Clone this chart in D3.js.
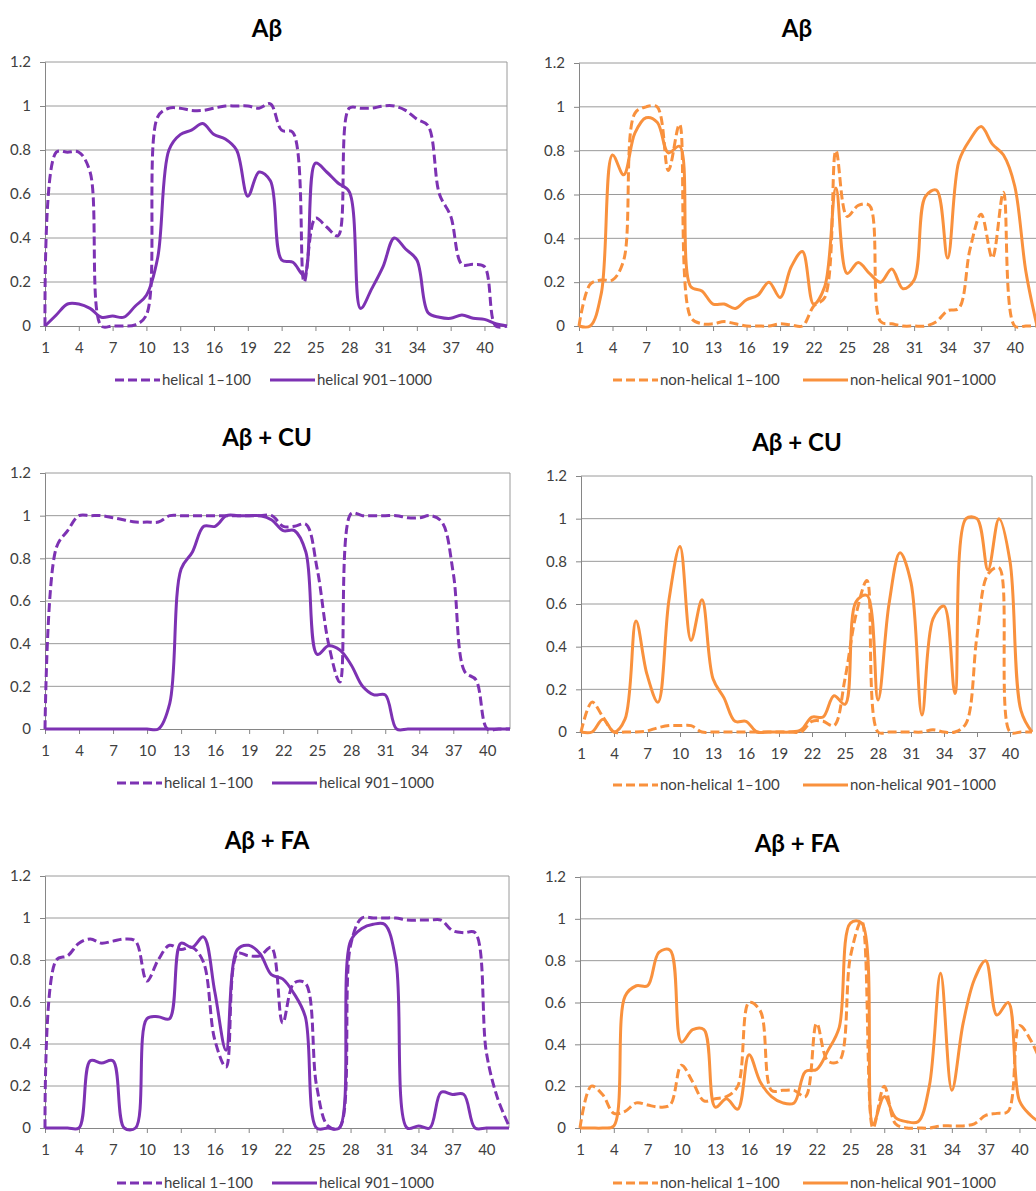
<!DOCTYPE html>
<meta charset="utf-8">
<style>
body { margin: 0; background: #fff; }
svg { display: block; }
.tick-label { font-family: Lato, "Open Sans", sans-serif; font-size: 15px; fill: #404040; }
.title { font-family: Lato, "Open Sans", sans-serif; font-size: 24px; font-weight: bold; fill: #000; }
.legend-name { font-family: Lato, "Open Sans", sans-serif; font-size: 15px; fill: #404040; }
</style>
<body>
<script src="https://d3js.org/d3.v7.min.js"></script>
<script>
// residue positions on the x axis
var residues = [1,2,3,4,5,6,7,8,9,10,11,12,13,14,15,16,17,18,19,20,21,
                22,23,24,25,26,27,28,29,30,31,32,33,34,35,36,37,38,39,40,41,42];
var xTicks = [1,4,7,10,13,16,19,22,25,28,31,34,37,40];
var yTicks = [0,0.2,0.4,0.6,0.8,1,1.2];

// Abeta alone
var abHelical1 = [0,0.79,0.79,0.79,0.70,0,0,0,0.005,0.05,0.95,0.99,0.99,0.98,0.98,0.99,1,1,1,0.99,1.01,
                  0.89,0.88,0.20,0.49,0.45,0.41,0.99,0.99,0.99,1,1,0.98,0.94,0.91,0.60,0.50,0.28,0.28,0.27,0,0];
var abHelical901 = [0,0.05,0.10,0.10,0.08,0.04,0.045,0.04,0.09,0.14,0.31,0.80,0.87,0.89,0.92,0.87,0.85,0.80,0.59,0.70,0.66,
                    0.30,0.29,0.23,0.74,0.70,0.65,0.61,0.08,0.17,0.27,0.40,0.35,0.30,0.06,0.04,0.035,0.05,0.035,0.03,0.01,0];
var abNonHelical1 = [0,0.19,0.21,0.21,0.30,0.97,1.0,1.0,0.71,0.92,0.04,0.01,0.01,0.02,0.01,0,0,0,0.01,0.005,0,
                     0.09,0.13,0.80,0.50,0.55,0.55,0.02,0.01,0,0,0,0.02,0.07,0.08,0.35,0.51,0.31,0.61,0,0,0];
var abNonHelical901 = [0,0,0.15,0.78,0.69,0.88,0.95,0.93,0.79,0.82,0.18,0.16,0.10,0.10,0.08,0.12,0.14,0.20,0.13,0.27,0.34,
                       0.10,0.18,0.63,0.24,0.29,0.24,0.20,0.26,0.17,0.21,0.59,0.62,0.31,0.75,0.85,0.91,0.83,0.78,0.64,0.25,0];

// Abeta + CU
var cuHelical1 = [0,0.85,0.93,1,1,1,0.99,0.98,0.97,0.97,0.97,1,1,1,1,1,1,1,1,1,1,
                  0.95,0.95,0.96,0.75,0.40,0.22,1.01,1,1,1,1,0.99,0.99,1,0.97,0.73,0.27,0.23,0,0,0];
var cuHelical901 = [0,0,0,0,0,0,0,0,0,0,0,0.12,0.75,0.83,0.95,0.95,1,1,1,1,0.98,
                    0.93,0.93,0.83,0.35,0.39,0.37,0.30,0.20,0.16,0.16,0,0,0,0,0,0,0,0,0,0,0];
var cuNonHelical1 = [0,0.14,0.07,0,0,0,0.005,0.02,0.03,0.03,0.03,0,0,0,0,0,0,0,0,0,0,
                     0.05,0.05,0.03,0.25,0.55,0.71,0,0,0,0,0,0.01,0,0,0.04,0.45,0.74,0.77,0,0,0];
var cuNonHelical901 = [0,0,0.06,0,0.06,0.52,0.27,0.14,0.62,0.87,0.43,0.62,0.25,0.16,0.05,0.05,0,0,0,0,0.01,
                       0.07,0.07,0.17,0.13,0.61,0.64,0.15,0.60,0.84,0.70,0.08,0.53,0.59,0.18,1.0,1.0,0.76,1.0,0.80,0.10,0];

// Abeta + FA
var faHelical1 = [0,0.80,0.82,0.88,0.90,0.88,0.89,0.90,0.89,0.70,0.80,0.87,0.85,0.86,0.79,0.42,0.29,0.83,0.82,0.82,0.86,
                  0.50,0.69,0.69,0.20,0.01,0,0.87,1,1,1,1,0.99,0.99,0.99,0.99,0.94,0.93,0.93,0.36,0.14,0.01];
var faHelical901 = [0,0,0,0,0.32,0.31,0.32,0,0,0.52,0.53,0.52,0.88,0.86,0.91,0.65,0.37,0.85,0.87,0.83,0.73,
                    0.71,0.64,0.53,0,0,0,0.89,0.95,0.97,0.97,0.80,0,0.01,0,0.17,0.16,0.16,0,0,0,0];
var faNonHelical1 = [0,0.20,0.16,0.07,0.08,0.12,0.11,0.10,0.11,0.30,0.22,0.13,0.14,0.15,0.20,0.60,0.56,0.18,0.18,0.18,0.15,
                     0.50,0.32,0.32,0.82,0.99,0,0.20,0.02,0,0,0,0.01,0.01,0.01,0.02,0.06,0.07,0.08,0.49,0.42,0.30];
var faNonHelical901 = [0,0,0,0.01,0.63,0.68,0.68,0.84,0.85,0.41,0.47,0.47,0.10,0.14,0.09,0.35,0.22,0.15,0.12,0.12,0.27,
                       0.28,0.37,0.48,0.98,0.98,0.02,0.15,0.05,0.03,0.03,0.20,0.74,0.18,0.50,0.71,0.80,0.54,0.60,0.13,0.06,0.02];

var purple = "#7d32b3";
var orange = "#f9913d";

// panel layout (pixel boxes of each plot area)
var panels = [
  {title: "Aβ",      left: 45,  right: 507,  top: 62,  bottom: 326,  tx: 267, ty: 37,  ly: 380,  color: purple,
   names: ["helical 1–100", "helical 901–1000"], series: [abHelical1, abHelical901], lx: 115},
  {title: "Aβ",      left: 579, right: 1037, top: 63,  bottom: 326,  tx: 797, ty: 37,  ly: 380,  color: orange,
   names: ["non-helical 1–100", "non-helical 901–1000"], series: [abNonHelical1, abNonHelical901], lx: 613},
  {title: "Aβ + CU", left: 45,  right: 510,  top: 473, bottom: 729,  tx: 267, ty: 446, ly: 783,  color: purple,
   names: ["helical 1–100", "helical 901–1000"], series: [cuHelical1, cuHelical901], lx: 117},
  {title: "Aβ + CU", left: 581, right: 1032, top: 476, bottom: 732,  tx: 797, ty: 451, ly: 785,  color: orange,
   names: ["non-helical 1–100", "non-helical 901–1000"], series: [cuNonHelical1, cuNonHelical901], lx: 613},
  {title: "Aβ + FA", left: 45,  right: 509,  top: 876, bottom: 1128, tx: 267, ty: 849, ly: 1183, color: purple,
   names: ["helical 1–100", "helical 901–1000"], series: [faHelical1, faHelical901], lx: 117},
  {title: "Aβ + FA", left: 580, right: 1042, top: 877, bottom: 1128, tx: 797, ty: 852, ly: 1183, color: orange,
   names: ["non-helical 1–100", "non-helical 901–1000"], series: [faNonHelical1, faNonHelical901], lx: 613}
];

var svg = d3.select("body").append("svg")
    .attr("width", 1036)
    .attr("height", 1191);

svg.append("rect").attr("width", 1036).attr("height", 1191).attr("fill", "#fff");

panels.forEach(function(p) {
  var g = svg.append("g");

  var x = d3.scaleLinear().domain([1, 42]).range([p.left, p.right]);
  var y = d3.scaleLinear().domain([0, 1.2]).range([p.bottom, p.top]);

  // gridlines
  g.selectAll(".grid")
    .data(yTicks.filter(function(d) { return d > 0; }))
    .enter().append("line")
      .attr("x1", p.left).attr("x2", p.right)
      .attr("y1", function(d) { return y(d); })
      .attr("y2", function(d) { return y(d); })
      .attr("stroke", "#9a9a9a")
      .attr("stroke-width", 1);

  // plot area border (right side)
  g.append("line")
    .attr("x1", p.right).attr("x2", p.right)
    .attr("y1", p.top).attr("y2", p.bottom)
    .attr("stroke", "#9a9a9a");

  // y axis
  g.append("g")
    .attr("transform", "translate(" + p.left + ",0)")
    .call(d3.axisLeft(y).tickValues(yTicks).tickSize(5).tickPadding(9)
            .tickFormat(function(d) { return d3.format("~g")(d); }))
    .call(function(a) {
      a.select(".domain").attr("stroke", "#868686");
      a.selectAll(".tick line").attr("stroke", "#868686");
      a.selectAll(".tick text").attr("class", "tick-label").attr("fill", null);
    });

  // x axis
  g.append("g")
    .attr("transform", "translate(0," + p.bottom + ")")
    .call(d3.axisBottom(x).tickValues(xTicks).tickSize(5).tickPadding(11)
            .tickFormat(d3.format("d")))
    .call(function(a) {
      a.select(".domain").attr("stroke", "#868686").attr("d", "M" + p.left + ",0.5H" + p.right);
      a.selectAll(".tick line").attr("stroke", "#868686");
      a.selectAll(".tick text").attr("class", "tick-label").attr("fill", null);
    });

  // lines, smoothed like the spreadsheet's "smoothed line" option
  var line = d3.line()
    .x(function(d, i) { return x(residues[i]); })
    .y(function(d) { return y(d); })
    .curve(d3.curveCatmullRom.alpha(0.5));

  p.series.forEach(function(s, k) {
    g.append("path")
      .datum(s)
      .attr("d", line)
      .attr("fill", "none")
      .attr("stroke", p.color)
      .attr("stroke-width", 3)
      .attr("stroke-dasharray", k === 0 ? "9,4" : null);
  });

  // title
  g.append("text")
    .attr("class", "title")
    .attr("x", p.tx).attr("y", p.ty)
    .attr("text-anchor", "middle")
    .text(p.title);

  // legend
  var offsets = [0, p.names[0].length > 14 ? 190 : 155];
  p.names.forEach(function(n, k) {
    var lx = p.lx + offsets[k];
    g.append("line")
      .attr("x1", lx).attr("x2", lx + 45)
      .attr("y1", p.ly).attr("y2", p.ly)
      .attr("stroke", p.color)
      .attr("stroke-width", 3)
      .attr("stroke-dasharray", k === 0 ? "9,4" : null);
    g.append("text")
      .attr("class", "legend-name")
      .attr("x", lx + 47).attr("y", p.ly)
      .attr("dy", "0.35em")
      .text(n);
  });
});
</script>
</body>
